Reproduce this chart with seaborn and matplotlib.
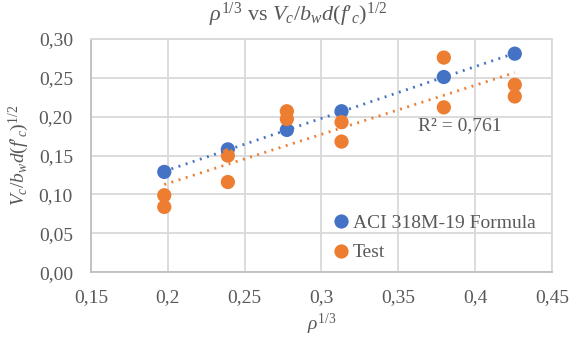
import numpy as np
import pandas as pd
import matplotlib
matplotlib.use("Agg")
import matplotlib.pyplot as plt
import seaborn as sns

# ---- data ----
rho_13 = [0.1977, 0.2391, 0.2775, 0.3131, 0.3797, 0.4259]
aci_values = [0.129, 0.158, 0.183, 0.207, 0.251, 0.281]
test_x = [0.1977, 0.1977, 0.2391, 0.2391, 0.2775, 0.2775,
          0.3131, 0.3131, 0.3797, 0.3797, 0.4259, 0.4259]
test_values = [0.099, 0.084, 0.150, 0.116, 0.207, 0.197,
               0.193, 0.168, 0.276, 0.212, 0.241, 0.226]
series_names = ["ACI 318M-19 Formula", "Test"]
x_ticks = [0.15, 0.2, 0.25, 0.3, 0.35, 0.4, 0.45]
x_tick_labels = ["0,15", "0,2", "0,25", "0,3", "0,35", "0,4", "0,45"]
y_ticks = [0.00, 0.05, 0.10, 0.15, 0.20, 0.25, 0.30]
y_tick_labels = ["0,00", "0,05", "0,10", "0,15", "0,20", "0,25", "0,30"]
r2_text = "R² = 0,761"

df = pd.DataFrame({
    "x": rho_13 + test_x,
    "y": aci_values + test_values,
    "series": [series_names[0]] * len(rho_13) + [series_names[1]] * len(test_x),
})

BLUE = "#4472C4"
ORANGE = "#ED7D31"
GRAY_TXT = "#595959"

sns.set_theme(style="white")
plt.rcParams["font.family"] = ["Liberation Serif", "DejaVu Serif"]
plt.rcParams["mathtext.fontset"] = "custom"
plt.rcParams["mathtext.rm"] = "Liberation Serif"
plt.rcParams["mathtext.it"] = "Liberation Serif:italic"
plt.rcParams["mathtext.bf"] = "Liberation Serif:bold"

fig = plt.figure(figsize=(5.76, 3.37), dpi=100)
ax = fig.add_axes([0.158, 0.192, 0.800, 0.6926])

sns.scatterplot(data=df, x="x", y="y", hue="series",
                palette={series_names[0]: BLUE, series_names[1]: ORANGE},
                s=105, edgecolor="none", ax=ax, zorder=3)

for name, col in zip(series_names, [BLUE, ORANGE]):
    sub = df[df["series"] == name]
    sns.regplot(data=sub, x="x", y="y", scatter=False, ci=None, ax=ax,
                truncate=True,
                line_kws=dict(color=col, lw=2.0, linestyle=(0, (0.7, 2.0)),
                              zorder=4))

ax.set_xlim(0.15, 0.45)
ax.set_ylim(0, 0.30)
ax.set_xticks(x_ticks)
ax.set_xticklabels(x_tick_labels)
ax.set_yticks(y_ticks)
ax.set_yticklabels(y_tick_labels)
ax.tick_params(axis="x", labelsize=14, colors=GRAY_TXT, length=0, pad=12)
ax.tick_params(axis="y", labelsize=14, colors=GRAY_TXT, length=0, pad=13)
ax.grid(True, color="#D9D9D9", lw=1.3)
ax.set_axisbelow(True)
for side in ["top", "right", "left", "bottom"]:
    ax.spines[side].set_color("#D9D9D9")
    ax.spines[side].set_linewidth(1.3)
ax.spines["left"].set_color("#BFBFBF")
ax.spines["bottom"].set_color("#BFBFBF")

ax.set_xlabel(r"$\rho^{1/3}$", fontsize=14, color=GRAY_TXT)
ax.xaxis.set_label_coords(0.5, -0.17)
ax.set_ylabel(r"$V_c/b_wd(f\prime_c)^{1/2}$", fontsize=14, color=GRAY_TXT)
ax.yaxis.set_label_coords(-0.13, 0.5)
fig.text(298 / 576, 1 - 15 / 337, r"$\rho^{1/3}$ vs $V_c/b_wd(f\prime_c)^{1/2}$",
         fontsize=16, color=GRAY_TXT, ha="center", va="center")

ax.text(0.390, 0.188, r2_text, fontsize=14, color=GRAY_TXT,
        ha="center", va="center")

leg = ax.legend(loc="lower right", bbox_to_anchor=(0.995, -0.012), frameon=False,
                fontsize=14, handletextpad=0.1, handlelength=1.0,
                labelspacing=0.6, borderaxespad=0.3)
for t in leg.get_texts():
    t.set_color(GRAY_TXT)

fig.savefig("out.png", dpi=100)
